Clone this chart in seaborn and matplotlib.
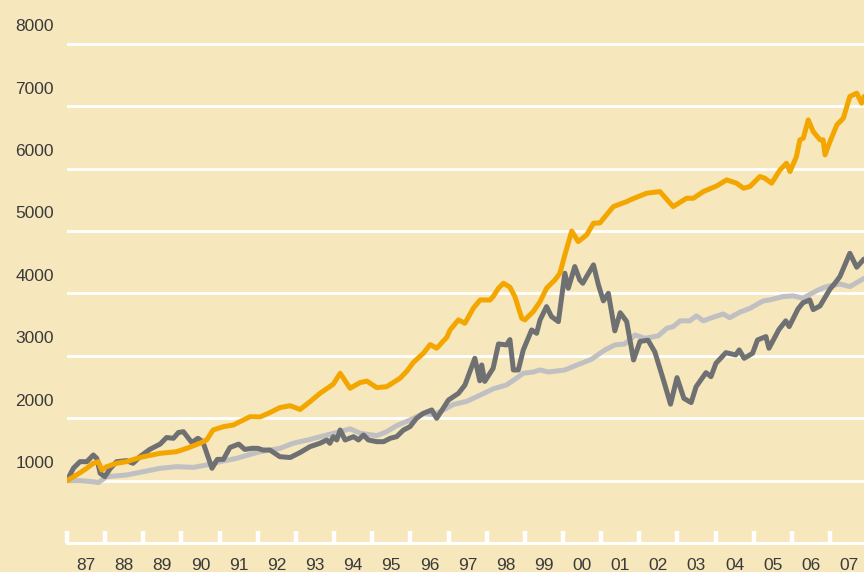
import matplotlib
matplotlib.use("Agg")
import matplotlib.pyplot as plt
import matplotlib.transforms as mtransforms
import seaborn as sns

# ── Data (indexed, Jan 1987 = 1000) ─────────────────────────

orange_t = [1987.00, 1987.25, 1987.50, 1987.69, 1987.82, 1987.91, 1988.04, 1988.30,
            1988.56, 1988.80, 1989.00, 1989.44, 1989.87, 1990.14, 1990.49, 1990.66,
            1990.83, 1991.10, 1991.36, 1991.53, 1991.80, 1992.06, 1992.32, 1992.58,
            1992.85, 1993.11, 1993.37, 1993.63, 1993.98, 1994.16, 1994.42, 1994.68,
            1994.86, 1995.12, 1995.38, 1995.73, 1995.91, 1996.08, 1996.34, 1996.52,
            1996.69, 1996.96, 1997.04, 1997.26, 1997.43, 1997.65, 1997.83, 1998.09,
            1998.17, 1998.31, 1998.44, 1998.61, 1998.74, 1998.92, 1999.00, 1999.22,
            1999.40, 1999.57, 1999.79, 1999.92, 2000.05, 2000.23, 2000.40, 2000.62,
            2000.80, 2000.97, 2001.32, 2001.67, 2001.76, 2002.19, 2002.54, 2002.89,
            2003.24, 2003.42, 2003.68, 2004.03, 2004.29, 2004.55, 2004.73, 2004.90,
            2005.16, 2005.29, 2005.47, 2005.69, 2005.86, 2005.95, 2006.12, 2006.21,
            2006.30, 2006.43, 2006.56, 2006.74, 2006.82, 2006.87, 2007.00, 2007.18,
            2007.35, 2007.52, 2007.70, 2007.83, 2007.89]
orange_v = [1000, 1090, 1190, 1277, 1303, 1170, 1223, 1277,
            1303, 1350, 1383, 1437, 1463, 1517, 1600, 1651,
            1811, 1864, 1891, 1944, 2024, 2020, 2090, 2170,
            2200, 2140, 2265, 2398, 2545, 2720, 2480, 2570,
            2595, 2490, 2505, 2640, 2755, 2895, 3040, 3180,
            3121, 3300, 3414, 3575, 3522, 3762, 3895, 3895,
            3949, 4083, 4163, 4100, 3949, 3602, 3575, 3708,
            3868, 4083, 4216, 4323, 4617, 5000, 4830, 4937,
            5125, 5130, 5391, 5471, 5498, 5605, 5632, 5391,
            5525, 5525, 5632, 5722, 5819, 5766, 5686, 5712,
            5872, 5846, 5766, 5979, 6086, 5952, 6192, 6460,
            6487, 6781, 6593, 6460, 6460, 6220, 6434, 6701,
            6808, 7155, 7209, 7048, 7155]

dark_t = [1987.00, 1987.17, 1987.34, 1987.52, 1987.69, 1987.78, 1987.87, 1987.99,
          1988.13, 1988.30, 1988.56, 1988.73, 1988.91, 1989.17, 1989.44, 1989.61,
          1989.79, 1989.92, 1990.05, 1990.27, 1990.43, 1990.56, 1990.80, 1990.94,
          1991.10, 1991.27, 1991.50, 1991.66, 1991.85, 1992.00, 1992.14, 1992.32,
          1992.58, 1992.85, 1993.11, 1993.37, 1993.63, 1993.81, 1993.89, 1993.98,
          1994.07, 1994.16, 1994.29, 1994.51, 1994.64, 1994.77, 1994.90, 1995.12,
          1995.30, 1995.47, 1995.64, 1995.82, 1995.99, 1996.16, 1996.34, 1996.56,
          1996.69, 1996.86, 1997.00, 1997.26, 1997.43, 1997.69, 1997.82, 1997.87,
          1997.95, 1998.17, 1998.31, 1998.52, 1998.61, 1998.70, 1998.83, 1998.96,
          1999.18, 1999.31, 1999.40, 1999.57, 1999.70, 1999.88, 2000.05, 2000.14,
          2000.31, 2000.44, 2000.52, 2000.62, 2000.80, 2000.93, 2001.06, 2001.19,
          2001.36, 2001.50, 2001.67, 2001.85, 2002.02, 2002.23, 2002.41, 2002.64,
          2002.82, 2002.99, 2003.17, 2003.36, 2003.49, 2003.75, 2003.88, 2004.01,
          2004.27, 2004.53, 2004.62, 2004.75, 2004.97, 2005.10, 2005.32, 2005.40,
          2005.66, 2005.84, 2005.93, 2006.16, 2006.29, 2006.47, 2006.56, 2006.74,
          2007.00, 2007.13, 2007.26, 2007.52, 2007.70, 2007.89]
dark_v = [1000, 1200, 1303, 1303, 1410, 1357, 1117, 1063,
          1190, 1303, 1320, 1277, 1383, 1500, 1585, 1690,
          1678, 1770, 1784, 1610, 1678, 1624, 1197, 1340,
          1340, 1530, 1585, 1500, 1517, 1517, 1490, 1490,
          1383, 1370, 1450, 1544, 1598, 1651, 1598, 1704,
          1651, 1811, 1651, 1704, 1651, 1731, 1651, 1624,
          1624, 1678, 1704, 1811, 1864, 1998, 2078, 2132,
          1998, 2158, 2292, 2398, 2530, 2960, 2600, 2853,
          2590, 2800, 3190, 3174, 3260, 2773, 2773, 3094,
          3414, 3361, 3575, 3788, 3628, 3548, 4323, 4083,
          4430, 4216, 4163, 4270, 4457, 4136, 3880, 4002,
          3400, 3690, 3550, 2933, 3230, 3250, 3060, 2600,
          2225, 2650, 2318, 2250, 2505, 2730, 2666, 2880,
          3050, 3014, 3094, 2960, 3040, 3254, 3308, 3121,
          3420, 3560, 3468, 3750, 3850, 3895, 3740, 3800,
          4070, 4163, 4270, 4643, 4420, 4550]

light_t = [1987.00, 1987.34, 1987.69, 1987.82, 1988.04, 1988.56, 1989.00, 1989.44,
           1989.87, 1990.31, 1990.66, 1991.01, 1991.45, 1991.80, 1992.06, 1992.58,
           1992.93, 1993.37, 1993.81, 1994.16, 1994.42, 1994.68, 1995.12, 1995.38,
           1995.64, 1995.99, 1996.34, 1996.56, 1996.69, 1996.87, 1997.13, 1997.48,
           1997.83, 1998.17, 1998.52, 1998.78, 1998.96, 1999.22, 1999.40, 1999.62,
           2000.05, 2000.40, 2000.75, 2001.10, 2001.36, 2001.62, 2001.89, 2002.15,
           2002.50, 2002.72, 2002.89, 2003.07, 2003.32, 2003.50, 2003.68, 2003.85,
           2004.20, 2004.37, 2004.64, 2004.90, 2005.25, 2005.42, 2005.77, 2006.03,
           2006.29, 2006.64, 2006.90, 2007.26, 2007.52, 2007.89]
light_v = [1000, 1000, 982, 967, 1063, 1090, 1143, 1197,
           1223, 1212, 1250, 1303, 1357, 1420, 1463, 1517,
           1598, 1660, 1731, 1784, 1830, 1760, 1720, 1784,
           1880, 1971, 2078, 2060, 2080, 2132, 2220, 2270,
           2370, 2470, 2532, 2640, 2720, 2740, 2773, 2740,
           2773, 2860, 2945, 3094, 3174, 3190, 3334, 3281,
           3320, 3440, 3468, 3560, 3560, 3640, 3560, 3600,
           3670, 3610, 3700, 3760, 3880, 3895, 3949, 3960,
           3922, 4040, 4109, 4150, 4109, 4240]

years = list(range(1987, 2008))
year_labels = [f"{y % 100:02d}" for y in years]
y_ticks = [1000, 2000, 3000, 4000, 5000, 6000, 7000, 8000]

# ── Style ─────────────────────────────────────────────────

BG = "#F6E7BC"
ORANGE = "#F4A600"
DARK = "#6F7072"
LIGHT = "#C0C0C2"
TEXT = "#3A3A3A"

sns.set_style("white", {"axes.facecolor": BG, "figure.facecolor": BG})
plt.rcParams["font.family"] = ["Liberation Sans", "DejaVu Sans"]

fig = plt.figure(figsize=(8.64, 5.72), dpi=100)
ax = fig.add_axes([67 / 864, 29 / 572, 797 / 864, 543 / 572])
ax.set_facecolor(BG)

lw = 3.6
sns.lineplot(x=light_t, y=light_v, color=LIGHT, lw=lw, ax=ax, sort=False, zorder=3)
sns.lineplot(x=dark_t, y=dark_v, color=DARK, lw=lw, ax=ax, sort=False, zorder=4)
sns.lineplot(x=orange_t, y=orange_v, color=ORANGE, lw=lw, ax=ax, sort=False, zorder=5)

ax.set_xlim(1987, 1987 + 797 / 38.15)
ax.set_ylim(0, 543 / 62.4 * 1000)

# horizontal white grid
ax.set_yticks(y_ticks)
ax.set_yticklabels([str(v) for v in y_ticks], fontsize=12.5, color=TEXT)
ax.yaxis.grid(True, color="white", lw=2)
ax.xaxis.grid(False)
ax.tick_params(axis="y", length=0, pad=9.5)
offset = mtransforms.ScaledTranslation(0, 0.185, fig.dpi_scale_trans)
for lbl in ax.get_yticklabels():
    lbl.set_transform(lbl.get_transform() + offset)

# year ticks: white marks at year starts, labels mid-year
ax.set_xticks(years)
ax.set_xticklabels([])
ax.set_xticks([y + 0.5 for y in years], minor=True)
ax.set_xticklabels(year_labels, minor=True, fontsize=12.5, color=TEXT)
ax.tick_params(axis="x", which="major", bottom=True, direction="in", length=8.5,
               width=3.2, color="white")
ax.tick_params(axis="x", which="minor", bottom=True, length=0, pad=11)

for side in ["left", "top", "right"]:
    ax.spines[side].set_visible(False)
ax.spines["bottom"].set_color("white")
ax.spines["bottom"].set_linewidth(2.2)
ax.set_xlabel("")
ax.set_ylabel("")

fig.savefig("out.png", dpi=100, facecolor=BG)
